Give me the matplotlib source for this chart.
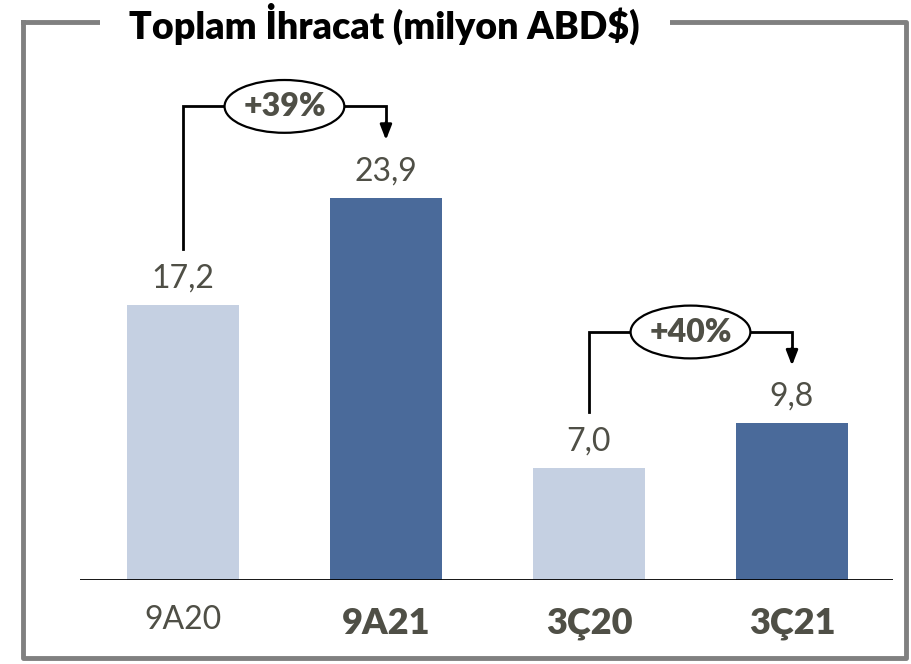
import matplotlib.pyplot as plt
from matplotlib.patches import Ellipse
from matplotlib.lines import Line2D

categories = ["9A20", "9A21", "3Ç20", "3Ç21"]
values = [17.2, 23.9, 7.0, 9.8]
value_labels = ["17,2", "23,9", "7,0", "9,8"]
bold_category = [False, True, True, True]
changes = [(0, 1, "+39%"), (2, 3, "+40%")]

light = "#C5D0E2"
dark = "#4A6A9A"
text_col = "#4F4F46"
bar_colors = [light, dark, light, dark]

plt.rcParams["font.family"] = ["Lato", "DejaVu Sans"]

fig = plt.figure(figsize=(9.12, 6.64), dpi=100)
W, H = 912, 664

# axes placed so that baseline sits at y=580 px, top at y=22 px
ax = fig.add_axes([80 / W, 1 - 580 / H, (893 - 80) / W, (580 - 22) / H])
xs = list(range(len(categories)))
ax.bar(xs, values, width=0.55, color=bar_colors)
ax.set_xlim(-0.507, 3.4975)
ax.set_ylim(0, (580 - 22) / 16.0)
ax.axis("off")
ax.axhline(0, color="black", lw=2)

for x, v, lab in zip(xs, values, value_labels):
    ax.text(x, v + 1.65, lab, ha="center", va="center", fontsize=23,
            color=text_col)

for x, cat, b in zip(xs, categories, bold_category):
    ax.text(x, -2.7 if b else -2.5, cat, ha="center", va="center",
            fontsize=26 if b else 23, fontweight="heavy" if b else "normal",
            color=text_col)

# growth brackets
for i, j, txt in changes:
    start = values[i] + 3.5
    top = max(values[i], values[j]) + 5.7
    end = values[j] + 3.6
    ax.plot([xs[i], xs[i], xs[j], xs[j]], [start, top, top, end + 1.0],
            color="black", lw=2, solid_joinstyle="miter", clip_on=False)
    ax.annotate("", xy=(xs[j], end), xytext=(xs[j], end + 1.1),
                arrowprops=dict(arrowstyle="-|>,head_width=0.35,head_length=0.9",
                                color="black", lw=2, shrinkA=0, shrinkB=0))
    mid = (xs[i] + xs[j]) / 2
    ax.add_patch(Ellipse((mid, top), 0.59, 3.3, facecolor="white",
                         edgecolor="black", lw=1.6, zorder=5, clip_on=False))
    ax.text(mid, top, txt, ha="center", va="center", fontsize=23,
            fontweight="heavy", color=text_col, zorder=6)

# frame with a gap for the title
frame = dict(color="#808080", lw=3.5, solid_capstyle="projecting")
fig.add_artist(Line2D([23 / W, 23 / W, 906 / W, 906 / W, 23 / W],
                      [1 - 22 / H, 1 - 658 / H, 1 - 658 / H, 1 - 22 / H, 1 - 22 / H],
                      **frame))
fig.patches.append(plt.Rectangle((100 / W, 1 - 45 / H), 570 / W, 40 / H,
                                 transform=fig.transFigure, facecolor="white",
                                 edgecolor="none", zorder=3))
fig.text(384 / W, 1 - 24 / H, "Toplam İhracat (milyon ABD$)", ha="center",
         va="center", fontsize=27, fontweight="heavy", color="black", zorder=4)

fig.savefig("out.png", dpi=100, facecolor="white")
